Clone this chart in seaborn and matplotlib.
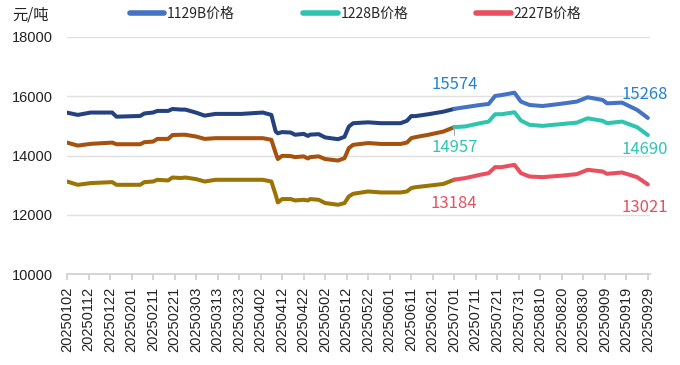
import pandas as pd
import matplotlib.pyplot as plt
import seaborn as sns
from matplotlib.lines import Line2D

# sample dates and prices (yuan/ton)
dates = ['20250102', '20250107', '20250113', '20250123', '20250125', '20250205',
         '20250207', '20250211', '20250213', '20250218', '20250220', '20250224',
         '20250226', '20250303', '20250307', '20250312', '20250324', '20250403',
         '20250407', '20250409', '20250410', '20250412', '20250416', '20250418',
         '20250422', '20250424', '20250425', '20250429', '20250502', '20250508',
         '20250511', '20250513', '20250515', '20250522', '20250528', '20250606',
         '20250609', '20250611', '20250613', '20250619', '20250626', '20250701',
         '20250706', '20250713', '20250717', '20250720', '20250723', '20250729',
         '20250801', '20250805', '20250811', '20250819', '20250827', '20250901',
         '20250908', '20250910', '20250917', '20250924', '20250929']
p1129 = [15447, 15370, 15450, 15450, 15310, 15335, 15420, 15450, 15505, 15505,
         15570, 15550, 15550, 15447, 15346, 15404, 15404, 15450, 15370, 14810,
         14750, 14790, 14775, 14700, 14730, 14660, 14705, 14720, 14610, 14550,
         14630, 14975, 15090, 15120, 15090, 15090, 15170, 15330, 15330, 15393,
         15480, 15574, 15630, 15705, 15740, 16010, 16040, 16120, 15820, 15705,
         15670, 15740, 15820, 15965, 15875, 15760, 15785, 15540, 15268]
p1228 = [14436, 14335, 14393, 14436, 14380, 14380, 14450, 14470, 14560, 14560,
         14690, 14700, 14700, 14640, 14560, 14585, 14585, 14585, 14530, 14080,
         13880, 13990, 13980, 13945, 13970, 13900, 13945, 13970, 13880, 13830,
         13910, 14250, 14360, 14420, 14390, 14390, 14436, 14585, 14620, 14700,
         14810, 14957, 14980, 15090, 15145, 15393, 15393, 15460, 15180, 15035,
         15000, 15055, 15110, 15255, 15170, 15090, 15145, 14955, 14690]
p2227 = [13122, 13011, 13068, 13102, 13011, 13011, 13102, 13122, 13180, 13158,
         13257, 13240, 13257, 13203, 13122, 13180, 13180, 13180, 13122, 12674,
         12415, 12530, 12530, 12483, 12505, 12483, 12530, 12505, 12394, 12337,
         12394, 12617, 12708, 12786, 12752, 12752, 12786, 12899, 12930, 12980,
         13040, 13184, 13236, 13348, 13405, 13607, 13607, 13685, 13405, 13290,
         13270, 13314, 13371, 13517, 13460, 13382, 13427, 13270, 13021]

names = ['1129B价格', '1228B价格', '2227B价格']
dark_colors = ['#23427f', '#a5520e', '#9b7405']
bright_colors = ['#4472c4', '#2ec4b0', '#e8505f']
label_colors = ['#2283d2', '#2ec4b6', '#e8505f']
split = '20250701'
start, end = '20250102', '20250929'

sns.set_theme(style='white')
plt.rcParams['font.family'] = ['Noto Sans CJK SC', 'DejaVu Sans']

d = pd.to_datetime(dates)
day = (d - pd.Timestamp(start)).days
k = dates.index(split)

fig = plt.figure(figsize=(6.8, 3.65), dpi=100)
ax = fig.add_axes([67 / 680, 1 - 274 / 365, (650 - 67) / 680, (274 - 37) / 365])

series = [p1129, p1228, p2227]
for vals, dc, bc in zip(series, dark_colors, bright_colors):
    sns.lineplot(x=day[:k + 1], y=vals[:k + 1], color=dc, lw=2.9, ax=ax,
                 solid_capstyle='round', solid_joinstyle='round')
    sns.lineplot(x=day[k:], y=vals[k:], color=bc, lw=2.9, ax=ax,
                 solid_capstyle='round', solid_joinstyle='round')

# value labels at 0701 and last day
offs_mid = [24, -20, -24]
offs_end = [23, -14, -23]
for vals, c, om, oe in zip(series, label_colors, offs_mid, offs_end):
    ax.annotate(str(vals[k]), xy=(day[k], vals[k]), xytext=(0, om),
                textcoords='offset pixels', ha='center', va='center',
                fontsize=12, color=c)
    ax.annotate(str(vals[-1]), xy=(day[-1], vals[-1]), xytext=(-3, oe),
                textcoords='offset pixels', ha='center', va='center',
                fontsize=12, color=c)
ax.plot([day[k], day[k]], [p1228[k] - 20, p1228[k] - 250], color='#aaaaaa', lw=0.8)

ticks = pd.date_range(start, end, freq='10D')
ax.set_xticks((ticks - pd.Timestamp(start)).days)
ax.set_xticklabels(ticks.strftime('%Y%m%d'), rotation=90,
                   family=['Liberation Sans'], fontsize=10.5, color='#222222')
ax.set_xlim(0, 271)
ax.set_ylim(10000, 18000)
ax.set_yticks(range(10000, 18001, 2000))
ax.set_yticklabels([str(v) for v in range(10000, 18001, 2000)],
                   family=['Liberation Sans'], fontsize=10.5, color='#222222')
ax.grid(axis='y', color='#e0e0e0', lw=1)
ax.set_axisbelow(True)
for s in ['left', 'right', 'top']:
    ax.spines[s].set_visible(False)
ax.spines['bottom'].set_color('#d0d0d0')
ax.tick_params(axis='x', length=4, color='#d0d0d0', pad=5, bottom=True)
ax.tick_params(axis='y', length=0, pad=10)
ax.set_xlabel('')
ax.set_ylabel('')

fig.text(12 / 680, 1 - 15 / 365, '元/吨', fontsize=11, color='#222222', va='center')
handles = [Line2D([0], [0], color=c, lw=4, solid_capstyle='round') for c in bright_colors]
fig.legend(handles, names, ncol=3, loc='center left',
           bbox_to_anchor=(117 / 680, 1 - 14 / 365), frameon=False,
           fontsize=10, handlelength=2.5, handletextpad=0.2, columnspacing=4.9)

fig.savefig('out.png', dpi=100)
